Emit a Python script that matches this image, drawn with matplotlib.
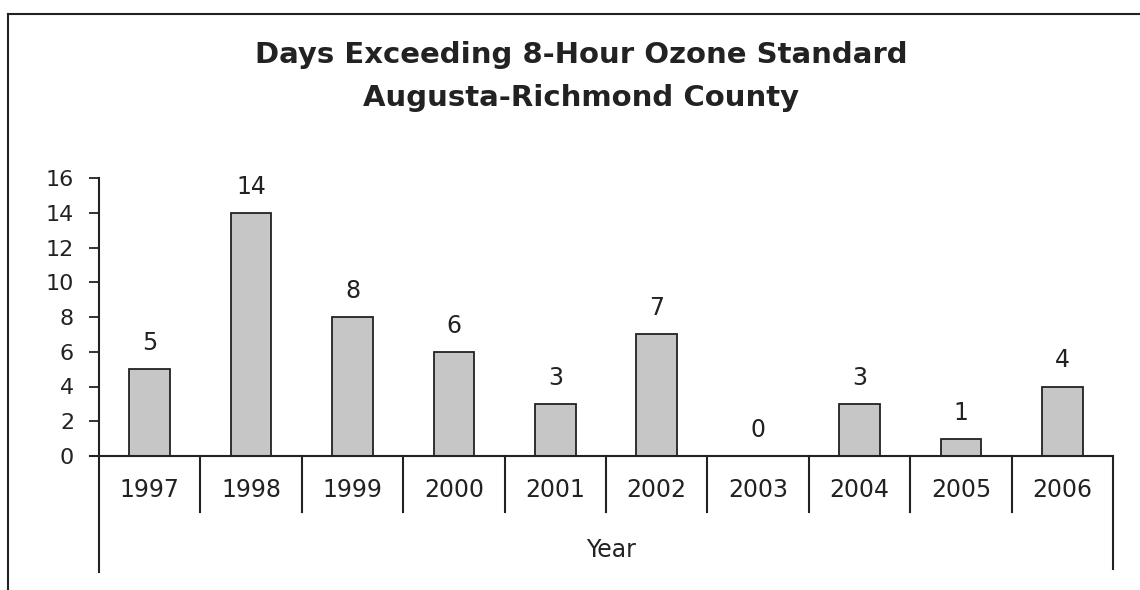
import matplotlib.pyplot as plt
from matplotlib.lines import Line2D

# data
years = ['1997', '1998', '1999', '2000', '2001', '2002', '2003', '2004', '2005', '2006']
days = [5, 14, 8, 6, 3, 7, 0, 3, 1, 4]
yticks = [0, 2, 4, 6, 8, 10, 12, 14, 16]

plt.rcParams['font.family'] = ['DejaVu Sans']

fig = plt.figure(figsize=(11.4, 5.9), dpi=100)
W, H = 1140, 590
ax = fig.add_axes([99 / W, 1 - 456 / H, (1113 - 99) / W, (456 - 178) / H])

x = [i + 0.5 for i in range(len(years))]
ax.bar(x, days, width=0.4, color='#c6c6c6', edgecolor='#222222', linewidth=1.3)
ax.set_xlim(0, 10)
ax.set_ylim(0, 16)

for xi, d in zip(x, days):
    ax.text(xi, d + 1.5, str(d), ha='center', va='center', fontsize=17, color='#222222')

for s in ['top', 'right', 'bottom', 'left']:
    ax.spines[s].set_visible(False)
ax.set_xticks([])
ax.set_yticks(yticks)
ax.tick_params(axis='y', direction='out', length=7, width=1.3, pad=11, labelsize=16,
               color='#222222', labelcolor='#222222')

# axis lines and category table
lw = 1.5
ax.plot([0, 0], [-6.7, 16], color='#222222', lw=lw, clip_on=False)
ax.plot([-0.09, 10], [0, 0], color='#222222', lw=lw, clip_on=False)
for i in range(1, 10):
    ax.plot([i, i], [0, -3.2], color='#222222', lw=lw, clip_on=False)
ax.plot([10, 10], [0, -6.5], color='#222222', lw=lw, clip_on=False)
for xi, yr in zip(x, years):
    ax.text(xi, -1.95, yr, ha='center', va='center', fontsize=17, color='#222222')
ax.text(5.05, -5.4, 'Year', ha='center', va='center', fontsize=17, color='#222222')

fig.text(0.51, 1 - 55 / H, 'Days Exceeding 8-Hour Ozone Standard', ha='center', va='center',
         fontsize=21, fontweight='bold', color='#222222')
fig.text(0.51, 1 - 98 / H, 'Augusta-Richmond County', ha='center', va='center',
         fontsize=21, fontweight='bold', color='#222222')

# outer frame
fig.add_artist(Line2D([8 / W, 1], [1 - 14 / H, 1 - 14 / H], color='#222222', lw=1.5))
fig.add_artist(Line2D([8 / W, 8 / W], [1 - 14 / H, 0], color='#222222', lw=1.5))

fig.savefig('out.png', dpi=100)
